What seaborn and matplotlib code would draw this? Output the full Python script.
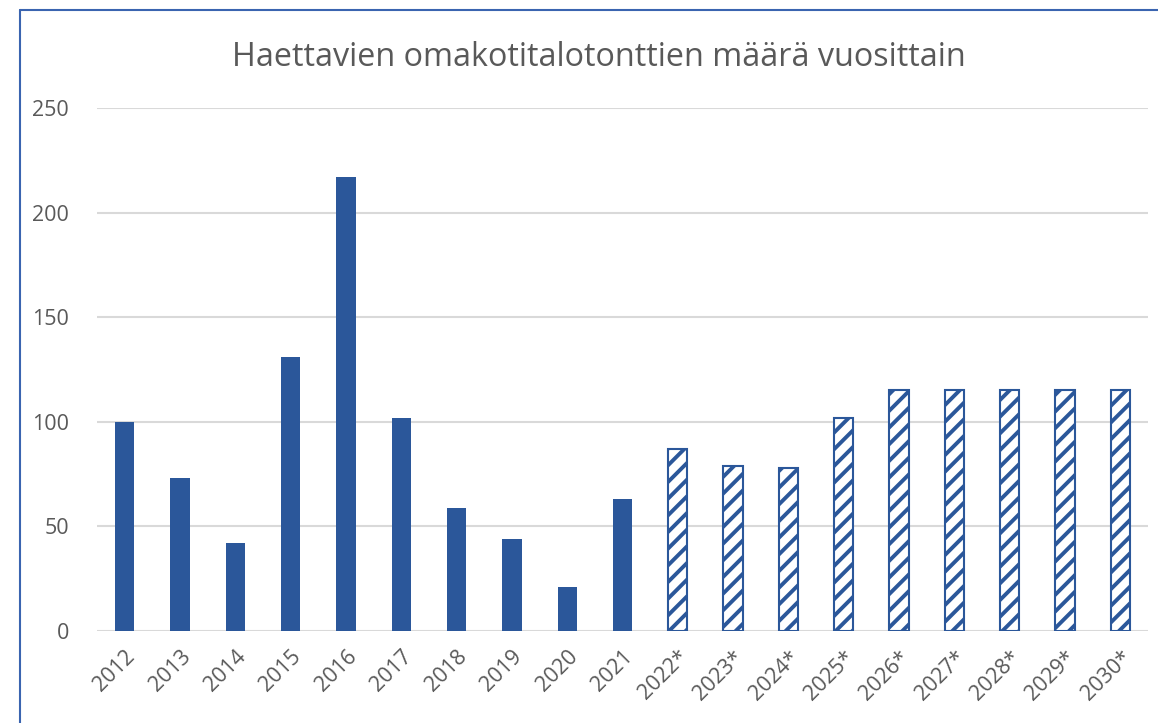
import matplotlib
matplotlib.use("Agg")
import matplotlib.pyplot as plt
from matplotlib.lines import Line2D
import pandas as pd
import seaborn as sns

# === Data ===
years = ["2012", "2013", "2014", "2015", "2016", "2017", "2018", "2019", "2020", "2021",
         "2022*", "2023*", "2024*", "2025*", "2026*", "2027*", "2028*", "2029*", "2030*"]
plots = [100, 73, 42, 131, 217, 102, 59, 44, 21, 63,
         87, 79, 78, 102, 115, 115, 115, 115, 115]
forecast = [False] * 10 + [True] * 9
y_ticks = [0, 50, 100, 150, 200, 250]
title = "Haettavien omakotitalotonttien määrä vuosittain"

BLUE = "#2B579A"
GREY_TEXT = "#595959"
GRID = "#D9D9D9"

df = pd.DataFrame({"vuosi": years, "tontit": plots, "ennuste": forecast})

sns.set_theme(style="white")
plt.rcParams["font.family"] = ["Open Sans", "DejaVu Sans"]
plt.rcParams["hatch.linewidth"] = 2.8

fig = plt.figure(figsize=(11.58, 7.23), dpi=100)
ax = fig.add_axes([97 / 1158, 1 - 631 / 723, (1148 - 97) / 1158, (631 - 108) / 723])

sns.barplot(data=df, x="vuosi", y="tontit", color=BLUE, width=0.35,
            saturation=1, ax=ax, zorder=3)

# === Forecast bars: hatched ===
for bar, is_fc in zip(ax.patches, df["ennuste"]):
    bar.set_linewidth(0)
    if is_fc:
        bar.set_facecolor("white")
        bar.set_edgecolor(BLUE)
        bar.set_hatch("//")
        bar.set_linewidth(1.5)

ax.set_ylim(0, 250)
ax.set_yticks(y_ticks)
ax.set_xlim(-0.5, len(years) - 0.5)
ax.yaxis.grid(True, color=GRID, linewidth=1.5, zorder=0)
ax.set_axisbelow(True)
sns.despine(ax=ax, left=True, bottom=True)
ax.set_xlabel("")
ax.set_ylabel("")
ax.tick_params(axis="y", length=0, pad=20, labelsize=15.5, labelcolor=GREY_TEXT)
ax.tick_params(axis="x", length=0, pad=11, labelsize=15.5, labelcolor=GREY_TEXT)
for lbl in ax.get_xticklabels():
    lbl.set_rotation(45)
    lbl.set_ha("right")
    lbl.set_rotation_mode("anchor")

fig.text(599 / 1158, 1 - 58 / 723, title, ha="center", va="center",
         fontsize=23.3, color=GREY_TEXT)

# === Chart frame (left and top edges visible) ===
frame_col = "#3A64B0"
fig.add_artist(Line2D([20 / 1158, 20 / 1158], [0, 1 - 10 / 723],
                      transform=fig.transFigure, color=frame_col, linewidth=1.5))
fig.add_artist(Line2D([20 / 1158, 1], [1 - 10 / 723, 1 - 10 / 723],
                      transform=fig.transFigure, color=frame_col, linewidth=1.5))

fig.savefig("out.png", dpi=100)
plt.close(fig)
